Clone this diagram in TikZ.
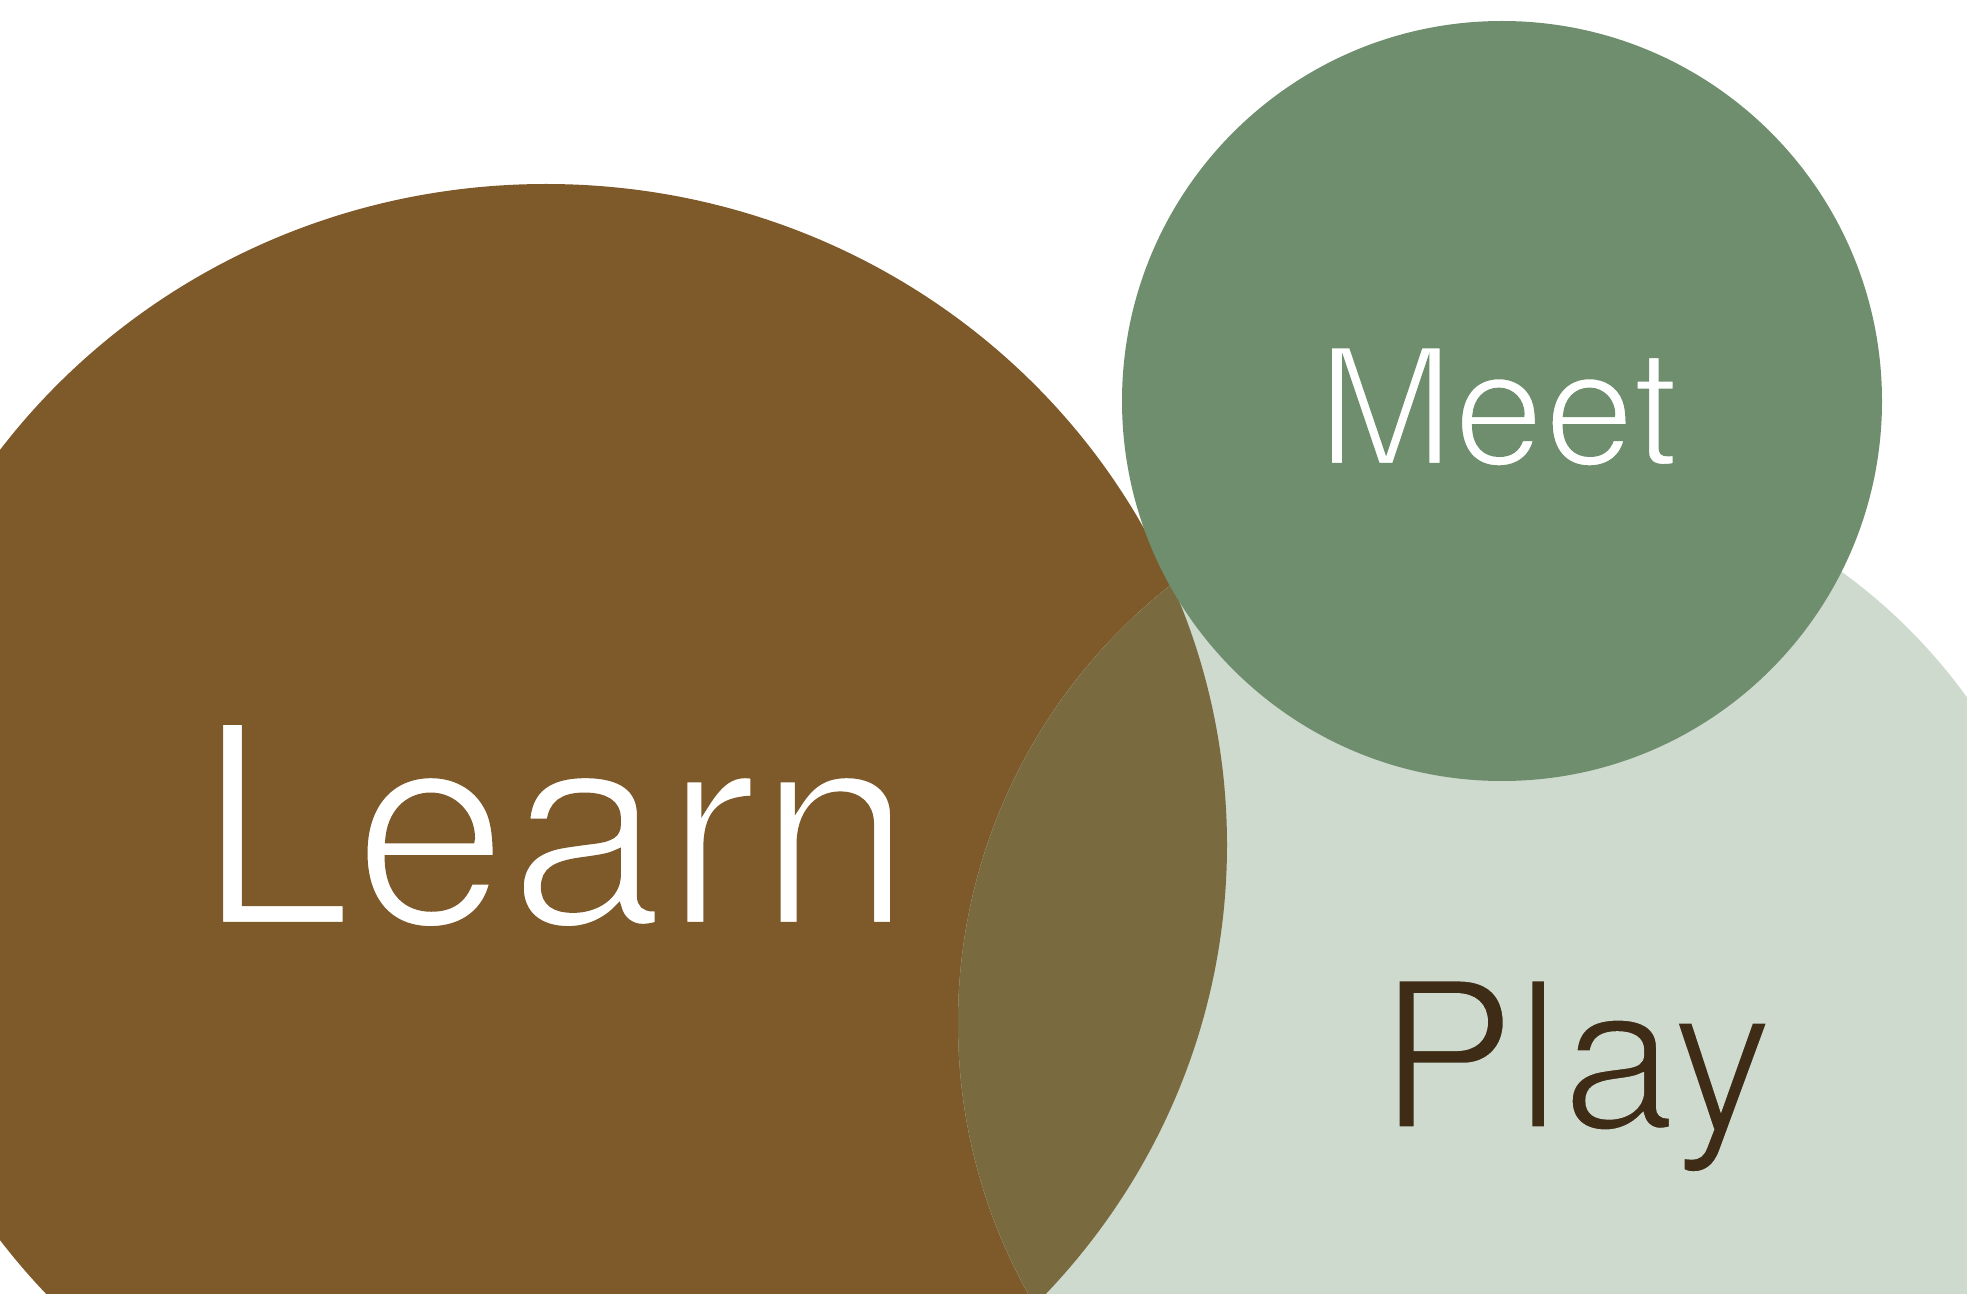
\documentclass[tikz,border=0pt]{standalone}
\usepackage{fontspec}
\setmainfont{TeX Gyre Heros}
\definecolor{learnbrown}{HTML}{7E5A2B}
\definecolor{overlapolive}{HTML}{7A6A40}
\definecolor{playmint}{HTML}{CFDACE}
\definecolor{meetgreen}{HTML}{6F8E6E}
\definecolor{playink}{HTML}{3E2C16}
% Light-weight lettering: set the word, then trace its outlines in the
% colour of the ground so the strokes come out thinner.
\newcommand\lightword[3]{%
  \leavevmode\rlap{#3}%
  {\color{#1}\special{pdf:literal direct 1 Tr #2 w}#3\special{pdf:literal direct 0 Tr}}}
\tikzset{
  label text/.style={anchor=base, inner sep=0pt},
}
\begin{document}
\begin{tikzpicture}[x=0.5pt, y=-0.5pt]
  \useasboundingbox (0,0) rectangle (1967,1294);
  \begin{scope}
    \clip (0,0) rectangle (1967,1294);
    % Learn disc
    \fill[learnbrown] (546,845) ellipse [x radius=681, y radius=661];
    % Play disc
    \fill[playmint] (1515,1023) circle [radius=557];
    % Learn and Play overlap
    \begin{scope}
      \clip (546,845) ellipse [x radius=681, y radius=661];
      \fill[overlapolive] (1515,1023) circle [radius=557];
    \end{scope}
    % Meet disc
    \fill[meetgreen] (1502,401) circle [radius=380];
  \end{scope}
  % labels
  \node[label text, text=white, font=\fontsize{140}{142}\selectfont] (learn) at (555,925.5) {\lightword{learnbrown}{3.6}{Learn}};
  \node[label text, text=white, font=\fontsize{81.5}{83}\selectfont] (meet) at (1498,465) {\lightword{meetgreen}{2.1}{Meet}};
  \node[label text, text=playink, font=\fontsize{103}{105}\selectfont] (play) at (1576,1129) {\lightword{playmint}{2.6}{Play}};
\end{tikzpicture}
\end{document}
